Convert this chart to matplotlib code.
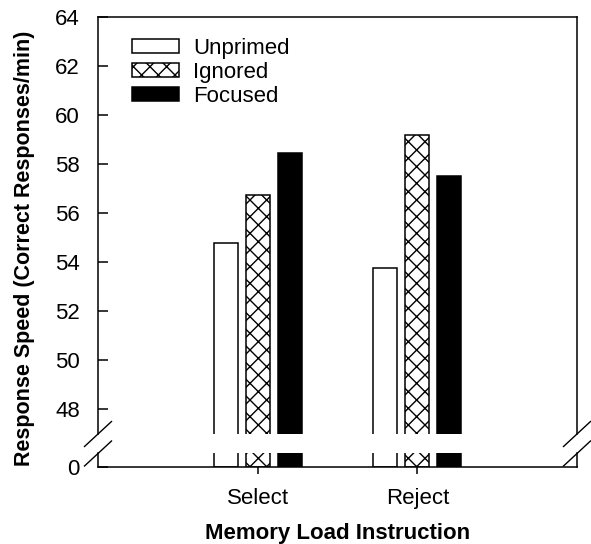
import numpy as np
import matplotlib
matplotlib.use("Agg")
import matplotlib.pyplot as plt

# データ
groups = ["Select", "Reject"]
conditions = ["Unprimed", "Ignored", "Focused"]
unprimed = [54.8, 53.77]
ignored = [56.75, 59.2]
focused = [58.45, 57.53]

plt.rcParams["font.family"] = ["Liberation Sans", "DejaVu Sans"]
plt.rcParams["font.size"] = 16
plt.rcParams["hatch.linewidth"] = 1.0

fig = plt.figure(figsize=(5.91, 5.44), dpi=100)
W, H = 591, 544
left, right = 98 / W, 577 / W
ax_top = fig.add_axes([left, (H - 434) / H, right - left, (434 - 17) / H])
ax_bot = fig.add_axes([left, (H - 467) / H, right - left, (467 - 453) / H])

x = np.arange(1, len(groups) + 1)
width = 0.15
offsets = [-0.2, 0.0, 0.2]
styles = [
    dict(facecolor="white", hatch=None),
    dict(facecolor="white", hatch="xx"),
    dict(facecolor="black", hatch=None),
]
series = [unprimed, ignored, focused]

for ax in (ax_top, ax_bot):
    for vals, off, st, lab in zip(series, offsets, styles, conditions):
        ax.bar(x + off, vals, width, edgecolor="black", linewidth=1.1,
               label=lab, **st)
    ax.set_xlim(0, 3)
    for s in ax.spines.values():
        s.set_linewidth(1.1)

ax_top.set_ylim(47, 64)
ax_top.set_yticks(np.arange(48, 65, 2))
ax_top.spines["bottom"].set_visible(False)
ax_top.tick_params(axis="x", bottom=False, labelbottom=False)
ax_top.tick_params(axis="y", direction="in", length=7, width=1.1, pad=13,
                   labelsize=16)

ax_bot.set_ylim(0, 1)
ax_bot.set_yticks([0])
ax_bot.spines["top"].set_visible(False)
ax_bot.tick_params(axis="y", direction="in", length=7, width=1.1, pad=13,
                   labelsize=16)
ax_bot.set_xticks(x)
ax_bot.set_xticklabels(groups)
ax_bot.tick_params(axis="x", direction="out", length=5, width=1.1, pad=10,
                   labelsize=16)
ax_bot.set_xlabel("Memory Load Instruction", fontweight="bold", fontsize=16,
                  labelpad=10)

fig.text(25 / W, (H - 248) / H, "Response Speed (Correct Responses/min)",
         rotation=90, fontweight="bold", fontsize=15.5, ha="center", va="center")

# 軸の切れ目マーク
for xs in (left, right):
    for yc in (434, 453.5):
        xp = xs * W
        fig.add_artist(plt.Line2D([(xp - 13.5) / W, (xp + 13.5) / W],
                                  [(H - yc - 12.5) / H, (H - yc + 12.5) / H],
                                  color="black", linewidth=1.0))

ax_top.legend(loc="upper left", bbox_to_anchor=(34 / 479, 1 - 21 / 417),
              frameon=False, borderpad=0, borderaxespad=0,
              handlelength=2.12, handleheight=0.57, handletextpad=0.63,
              labelspacing=0.13, fontsize=16)

fig.savefig("out.png", dpi=100, facecolor="white")
